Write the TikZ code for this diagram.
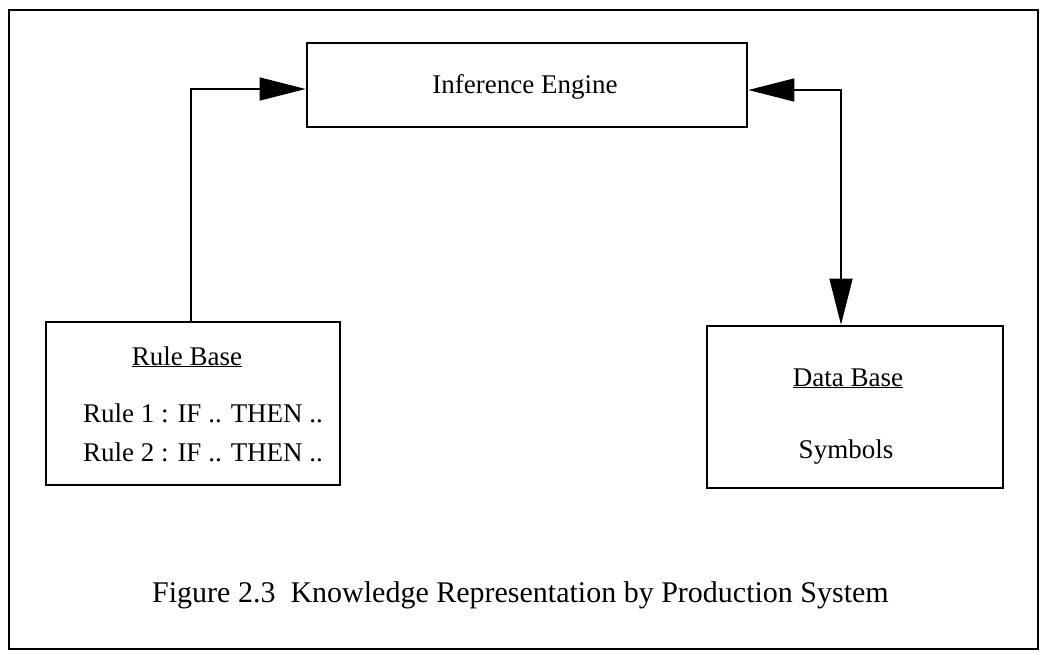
\documentclass[tikz,border=0pt]{standalone}
\usepackage{fontspec}
\setmainfont{Liberation Serif}
\usetikzlibrary{arrows.meta}

\begin{document}
\begin{tikzpicture}[x=1pt, y=-1pt,
  box/.style={draw, line width=2.6pt, inner sep=0pt, minimum width=#1},
  txt/.style={inner sep=0pt, font=\fontsize{27}{32}\selectfont},
  captxt/.style={inner sep=0pt, font=\fontsize{30}{36}\selectfont},
  conn/.style={line width=1.4pt, -{Triangle[length=46pt, width=23pt]}},
  dconn/.style={line width=1.4pt, {Triangle[length=46pt, width=23pt]}-{Triangle[length=46pt, width=23pt]}},
  frame/.style={draw, line width=2.4pt}
]
  % page and outer frame
  \useasboundingbox (0,0) rectangle (1041,654);
  \fill[white] (0,0) rectangle (1041,654);
  \draw[frame] (9,10) rectangle (1038,649);

  % boxes
  \node[box=440pt, minimum height=84pt] (ie) at (527,85) {};
  \node[box=294pt, minimum height=163pt] (rb) at (193,403.5) {};
  \node[box=296pt, minimum height=162pt] (db) at (855,407) {};

  % box texts
  \node[txt, anchor=base] (iet) at (525,93) {Inference Engine};
  \node[txt, anchor=base] (rbt) at (187,365) {\underline{Rule Base}};
  \node[txt, anchor=base] (r1) at (203,422) {Rule 1 : IF .. THEN ..};
  \node[txt, anchor=base] (r2) at (203,461) {Rule 2 : IF .. THEN ..};
  \node[txt, anchor=base] (dbt) at (848,386) {\underline{Data Base}};
  \node[txt, anchor=base] (sym) at (846,458) {Symbols};

  % connectors
  \draw[conn] ([xshift=-2pt]rb.north) |- ([yshift=-4pt]ie.west);
  \draw[dconn] ([yshift=-5pt]ie.east) -| ([xshift=-14pt]db.north);

  % caption
  \node[captxt, anchor=base west] (caption) at (152,602)
    {Figure 2.3\ \ Knowledge Representation by Production System};
\end{tikzpicture}
\end{document}
